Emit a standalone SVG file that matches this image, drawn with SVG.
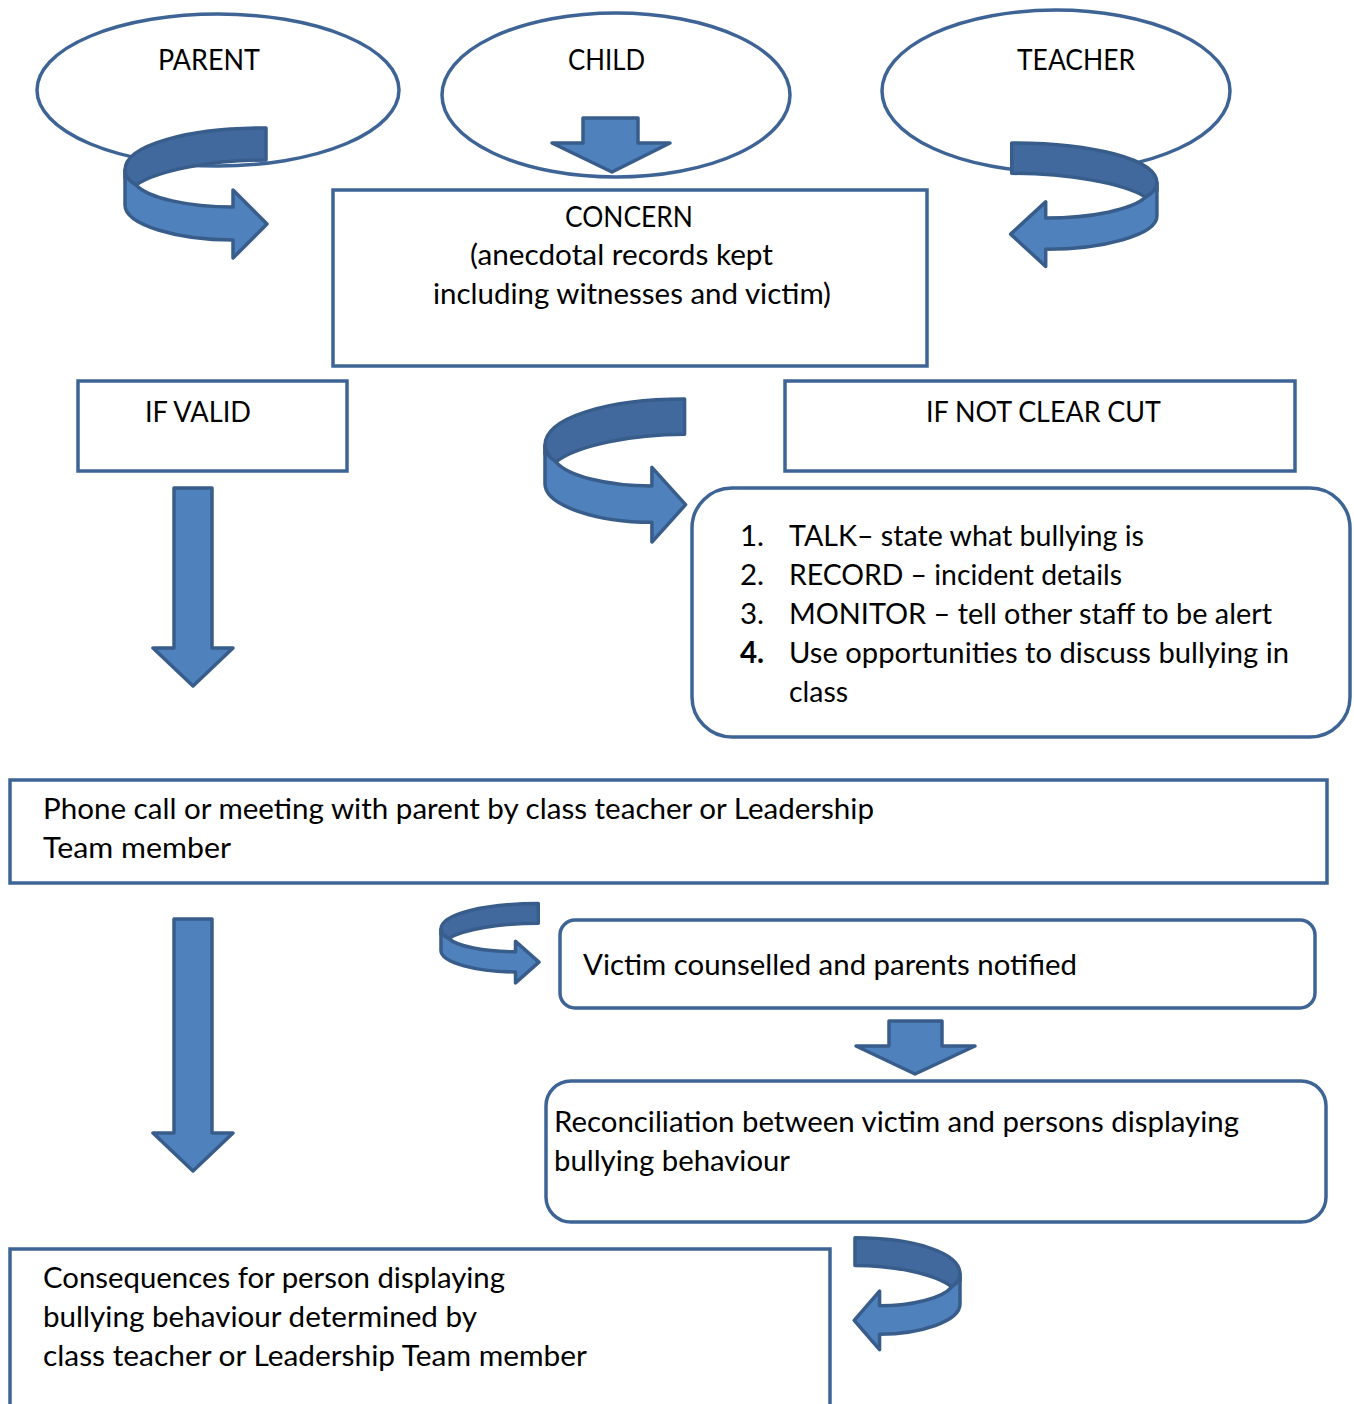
<svg xmlns="http://www.w3.org/2000/svg" width="1354" height="1404" viewBox="0 0 1354 1404">
<defs>
<style>
.box{fill:#fff;stroke:#3e6496;stroke-width:3.5}
.t{font-family:Lato,"Liberation Sans",sans-serif;font-size:29.5px;fill:#000}
.arr{fill:#4f81bd;stroke:#385d8a;stroke-width:3.5;stroke-linejoin:round}
.back{fill:#41699d;stroke:#385d8a;stroke-width:3.5;stroke-linejoin:round;vector-effect:non-scaling-stroke}
.front{fill:#4f81bd;stroke:#385d8a;stroke-width:3.5;stroke-linejoin:round;vector-effect:non-scaling-stroke}
</style>
<g id="curved">
<path class="back" d="M143,1 L143,33 C90,33 35,43 13,58 L2,51 L2,43 C2,18 65,1 143,1 Z"/>
<path class="front" d="M2,43 L2,78 C2,98 55,113 110,113 L110,131 L144,97 L110,63 L110,80 C65,80 25,71 13,58 C6,54 2,49 2,43 Z"/>
</g>
</defs>
<rect width="1354" height="1404" fill="#fff"/>

<g id="parent"><ellipse class="box" cx="218" cy="90" rx="181" ry="76"/><text class="t" x="209" y="70" text-anchor="middle" textLength="102" lengthAdjust="spacingAndGlyphs">PARENT</text></g>
<g id="child"><ellipse class="box" cx="616" cy="95" rx="174" ry="82"/><text class="t" x="606.5" y="70" text-anchor="middle" textLength="77" lengthAdjust="spacingAndGlyphs">CHILD</text></g>
<g id="teacher"><ellipse class="box" cx="1056" cy="91" rx="174" ry="81"/><text class="t" x="1076" y="70" text-anchor="middle" textLength="118" lengthAdjust="spacingAndGlyphs">TEACHER</text></g>

<g id="concern"><rect class="box" x="333" y="190" width="594" height="176"/>
<text class="t" x="629" y="227" text-anchor="middle" textLength="128" lengthAdjust="spacingAndGlyphs">CONCERN</text>
<text class="t" x="621.5" y="265" text-anchor="middle" textLength="303" lengthAdjust="spacingAndGlyphs">(anecdotal records kept</text>
<text class="t" x="632" y="304" text-anchor="middle" textLength="398" lengthAdjust="spacingAndGlyphs">including witnesses and victim)</text></g>

<g id="ifvalid"><rect class="box" x="78" y="381" width="269" height="90"/><text class="t" x="145" y="422" textLength="106" lengthAdjust="spacingAndGlyphs">IF VALID</text></g>
<g id="ifnotclear"><rect class="box" x="785" y="381" width="510" height="90"/><text class="t" x="926" y="422" textLength="235" lengthAdjust="spacingAndGlyphs">IF NOT CLEAR CUT</text></g>

<g id="steps"><rect class="box" x="692" y="488" width="658" height="249" rx="40"/>
<text class="t" x="740" y="546">1.</text><text class="t" x="789" y="546" textLength="355" lengthAdjust="spacingAndGlyphs">TALK– state what bullying is</text>
<text class="t" x="740" y="585">2.</text><text class="t" x="789" y="585" textLength="333" lengthAdjust="spacingAndGlyphs">RECORD – incident details</text>
<text class="t" x="740" y="624">3.</text><text class="t" x="789" y="624" textLength="483" lengthAdjust="spacingAndGlyphs">MONITOR – tell other staff to be alert</text>
<text class="t" x="740" y="663" font-weight="bold">4.</text><text class="t" x="789" y="663" textLength="500" lengthAdjust="spacingAndGlyphs">Use opportunities to discuss bullying in</text>
<text class="t" x="789" y="702" textLength="59" lengthAdjust="spacingAndGlyphs">class</text></g>

<g id="phone"><rect class="box" x="10" y="780" width="1317" height="103"/>
<text class="t" x="43" y="819" textLength="831" lengthAdjust="spacingAndGlyphs">Phone call or meeting with parent by class teacher or Leadership</text>
<text class="t" x="43" y="858" textLength="188" lengthAdjust="spacingAndGlyphs">Team member</text></g>

<g id="victim"><rect class="box" x="560" y="920" width="755" height="88" rx="15"/>
<text class="t" x="583" y="975" textLength="494" lengthAdjust="spacingAndGlyphs">Victim counselled and parents notified</text></g>

<g id="reconcile"><rect class="box" x="546" y="1081" width="780" height="141" rx="25"/>
<text class="t" x="554" y="1132" textLength="685" lengthAdjust="spacingAndGlyphs">Reconciliation between victim and persons displaying</text>
<text class="t" x="554" y="1171" textLength="236" lengthAdjust="spacingAndGlyphs">bullying behaviour</text></g>

<g id="consequences"><rect class="box" x="10" y="1249" width="820" height="180"/>
<text class="t" x="43" y="1288" textLength="462" lengthAdjust="spacingAndGlyphs">Consequences for person displaying</text>
<text class="t" x="43" y="1327" textLength="434" lengthAdjust="spacingAndGlyphs">bullying behaviour determined by</text>
<text class="t" x="43" y="1366" textLength="544" lengthAdjust="spacingAndGlyphs">class teacher or Leadership Team member</text></g>

<g id="connectors">
<use href="#curved" transform="translate(123,127)"/>
<use href="#curved" transform="translate(1159,142) scale(-1.03,0.95)"/>
<use href="#curved" transform="translate(543,398) scale(0.99,1.1)"/>
<use href="#curved" transform="translate(439.6,903) scale(0.69,0.61)"/>
<use href="#curved" transform="translate(961.5,1237) scale(-0.745,0.86)"/>
<path class="arr" d="M583,118 L638,118 L638,143 L670,143 L612,172 L552,143 L583,143 Z"/>
<path class="arr" d="M174,488 L212,488 L212,648 L233,648 L193,686 L153,648 L174,648 Z"/>
<path class="arr" d="M174,919 L212,919 L212,1133 L233,1133 L193,1171 L153,1133 L174,1133 Z"/>
<path class="arr" d="M889,1021 L942,1021 L942,1046 L975,1046 L915,1074 L856,1046 L889,1046 Z"/>
</g>
</svg>
